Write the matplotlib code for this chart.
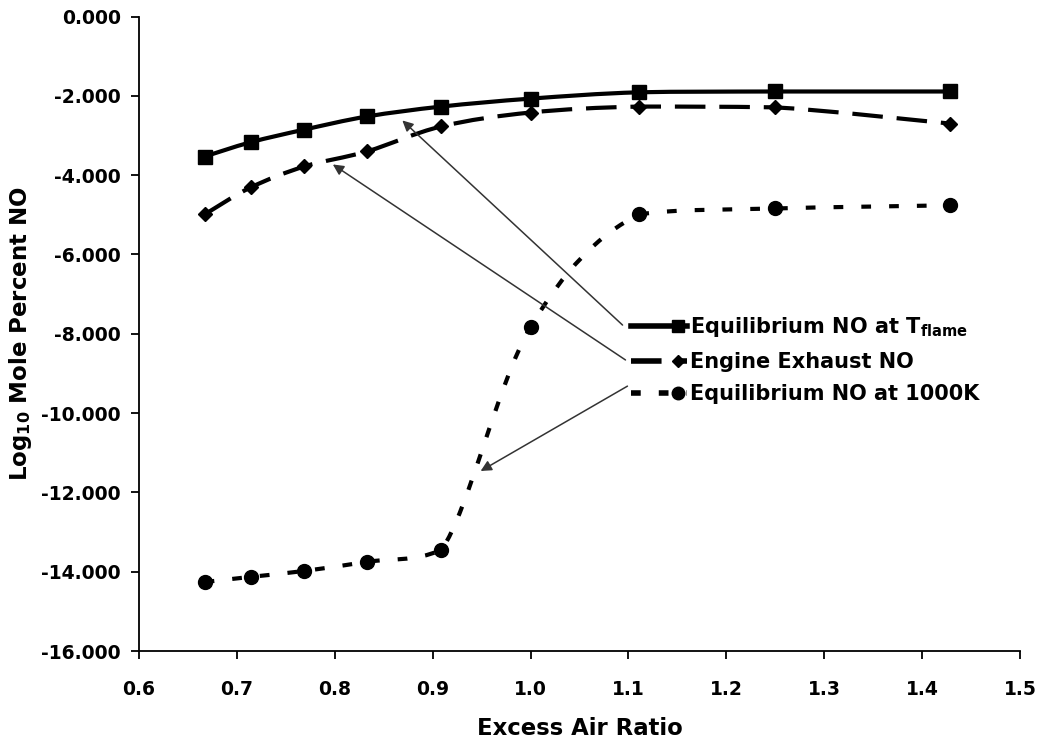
import numpy as np
import matplotlib
matplotlib.use("Agg")
import matplotlib.pyplot as plt
from matplotlib.path import Path
from matplotlib.patches import PathPatch
from matplotlib.lines import Line2D
from matplotlib.legend_handler import HandlerLine2D

plt.rcParams["font.family"] = ["DejaVu Sans"]
plt.rcParams["font.weight"] = "bold"
plt.rcParams["mathtext.fontset"] = "custom"
plt.rcParams["mathtext.rm"] = "DejaVu Sans:bold"
plt.rcParams["lines.scale_dashes"] = False

# excess air ratio (1/1.5 ... 1/0.7)
excess_air = [0.667, 0.714, 0.769, 0.833, 0.909, 1.000, 1.111, 1.250, 1.429]

eq_no_tflame = [-3.53, -3.17, -2.85, -2.52, -2.27, -2.07, -1.91, -1.89, -1.89]
engine_no = [-4.99, -4.31, -3.78, -3.40, -2.77, -2.42, -2.27, -2.29, -2.70]
eq_no_1000k = [-14.26, -14.13, -13.98, -13.75, -13.45, -7.83, -4.99, -4.84, -4.76]

labels = [
    r"Equilibrium NO at T$_{\mathregular{flame}}$",
    "Engine Exhaust NO",
    "Equilibrium NO at 1000K",
]

# arrows: (tip x, tip y, tail x, tail y)
arrows = [
    (0.869, -2.62, 1.094, -7.78),
    (0.798, -3.73, 1.097, -8.66),
    (0.949, -11.46, 1.099, -9.32),
]


def smooth_path(x, y):
    """Catmull-Rom style bezier through the points, control points clamped
    to each segment's y range so the curve does not overshoot."""
    x = np.asarray(x, float)
    y = np.asarray(y, float)
    n = len(x)
    verts = [(x[0], y[0])]
    codes = [Path.MOVETO]
    for k in range(n - 1):
        p0 = max(k - 1, 0)
        p3 = min(k + 2, n - 1)
        lo, hi = min(y[k], y[k + 1]), max(y[k], y[k + 1])
        c1x = x[k] + (x[k + 1] - x[p0]) / 6
        c1y = np.clip(y[k] + (y[k + 1] - y[p0]) / 6, lo, hi)
        c2x = x[k + 1] - (x[p3] - x[k]) / 6
        c2y = np.clip(y[k + 1] - (y[p3] - y[k]) / 6, lo, hi)
        verts += [(c1x, c1y), (c2x, c2y), (x[k + 1], y[k + 1])]
        codes += [Path.CURVE4] * 3
    return Path(verts, codes)


class EndMarkerHandler(HandlerLine2D):
    """Legend entry with the marker near the right end of the line sample."""

    def create_artists(self, legend, orig_handle, xdescent, ydescent,
                       width, height, fontsize, trans):
        artists = super().create_artists(legend, orig_handle, xdescent,
                                         ydescent, width, height, fontsize,
                                         trans)
        line = artists[0]
        xd = line.get_xdata()
        ydv = line.get_ydata()
        x0, x1 = xd[0], xd[-1]
        line.set_data([x0, x0 + 0.83 * (x1 - x0), x1], [ydv[0]] * 3)
        line.set_markevery([1])
        return artists


fig = plt.figure(figsize=(10.4, 7.42), dpi=100)
ax = fig.add_axes([0.1337, 0.1226, 0.847, 0.8551])

styles = [
    dict(ls="-", marker="s", ms=10),
    dict(ls=(0, (22, 10)), marker="D", ms=7),
    dict(ls=(0, (7, 13)), marker="o", ms=10),
]
series = [eq_no_tflame, engine_no, eq_no_1000k]

handles = []
for vals, st, lab in zip(series, styles, labels):
    patch = PathPatch(smooth_path(excess_air, vals), facecolor="none",
                      edgecolor="black", lw=3, linestyle=st["ls"],
                      capstyle="butt")
    ax.add_patch(patch)
    ax.plot(excess_air, vals, ls="none", marker=st["marker"],
            ms=st["ms"], color="black")
    handles.append(Line2D([], [], color="black", lw=4, linestyle=st["ls"],
                          marker=st["marker"], ms=st["ms"] * 0.9))

for tx, ty, sx, sy in arrows:
    ax.annotate("", xy=(tx, ty), xytext=(sx, sy),
                arrowprops=dict(arrowstyle="-|>", color="#333333", lw=1.1,
                                mutation_scale=16, shrinkA=0, shrinkB=0))

ax.legend(handles, labels, loc="upper left", bbox_to_anchor=(0.549, 0.542),
          frameon=False, fontsize=15, handlelength=2.7, handletextpad=0.15,
          labelspacing=0.6, borderaxespad=0, numpoints=1,
          handler_map={Line2D: EndMarkerHandler()})

ax.set_xlim(0.6, 1.5)
ax.set_ylim(-16, 0)
ax.set_xticks(np.arange(0.6, 1.51, 0.1))
ax.set_xticklabels([f"{v:.1f}" for v in np.arange(0.6, 1.51, 0.1)])
ax.set_yticks(np.arange(-16, 0.1, 2))
ax.set_yticklabels([f"{v:.3f}" for v in np.arange(-16, 0.1, 2)])
ax.tick_params(direction="out", length=6, width=1.3, labelsize=13.5)
ax.tick_params(axis="x", pad=15)
ax.tick_params(axis="y", pad=7)
for side in ("top", "right"):
    ax.spines[side].set_visible(False)
for side in ("left", "bottom"):
    ax.spines[side].set_linewidth(1.3)

ax.set_xlabel("Excess Air Ratio", fontsize=16.4, fontweight="bold", labelpad=13)
ax.set_ylabel(r"Log$_{\mathregular{10}}$ Mole Percent NO", fontsize=16.5,
              fontweight="bold", labelpad=5)

fig.savefig("out.png", dpi=100)
